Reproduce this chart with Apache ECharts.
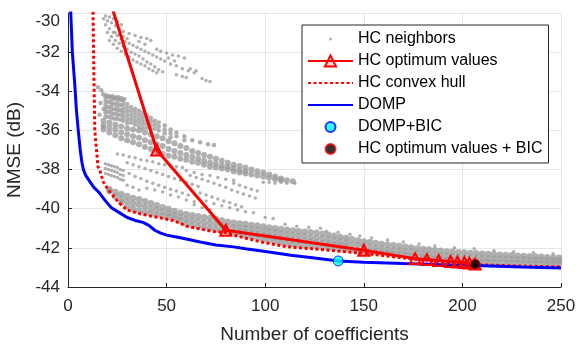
<!DOCTYPE html>
<html>
<head>
<meta charset="utf-8">
<script src="https://cdn.jsdelivr.net/npm/echarts@6/dist/echarts.min.js"></script>
<style>
html,body{margin:0;padding:0;background:#fff}
#chart{width:579px;height:344px}
</style>
</head>
<body>
<div id="chart"></div>
<script>
// HC neighbors, sparse dots
var nbTop = [
[18,-30.3],[20,-30.4],[22,-30.5],[24,-30.65],[26,-30.8],[28,-30.95],[31,-31.05],[34,-31.15],[37,-31.25],[40,-31.3],[42,-31.4],[45,-31.85],[47,-31.95],[50,-32.05],[53,-32.15],[56,-32.2],[59,-32.3],[62,-32.85],[65,-32.95],[68,-33.35],[70,-33.45],[72,-33.5],
[19,-30.6],[21,-30.8],[23,-31.0],[25,-31.15],[27,-31.3],[29,-31.45],[31,-31.55],[33,-31.65],[35,-31.75],[37,-31.85],[39,-31.95],[41,-32.05],[43,-32.15],[45,-32.25],[47,-32.35],[49,-32.45],[52,-32.6],[55,-32.7],[58,-32.85],[61,-32.95],[64,-33.05],
[20,-31.0],[22,-31.2],[24,-31.4],[26,-31.55],[28,-31.7],[30,-31.85],[32,-32.0],[34,-32.1],[36,-32.2],[38,-32.35],[40,-32.5],[42,-32.6],[44,-32.75],[46,-32.9],[48,-33.0],[55,-33.15],[58,-33.25],[60,-33.3],
[21,-31.4],[23,-31.6],[25,-31.8],[27,-31.95],[29,-32.1],[31,-32.25],[33,-32.4],[35,-32.5],[37,-32.6],[39,-32.7],[41,-32.85],[43,-32.95],[45,-33.05],
[19,-30.15],[21,-30.2],[23,-30.3],[25,-30.45],[27,-30.6],[24,-31.0],[26,-31.1],[28,-31.2],[30,-31.3],[36,-31.45],[39,-31.6],[51,-32.3],[54,-32.45]
];
var nbUpper = [
[15.2,-33.8],[16.9,-33.95],[17.8,-34.15],[16,-35.2],[17.8,-35.8],[16.5,-34.6],[18,-34.9],
[19.5,-34.2],[21,-34.25],[22.5,-34.25],[24,-34.3],[25.5,-34.3],[27,-34.35],[28.5,-34.4],
[19,-34.3],[19,-34.5],[19,-34.7],[19,-34.9],[19,-35.1],[19,-35.3],
[20.5,-34.3],[20.5,-34.55],[20.5,-34.8],[20.5,-35.05],[20.5,-35.3],
[22,-34.35],[22,-34.55],[22,-34.75],[22,-34.95],[22,-35.15],[22,-35.35],
[23.5,-34.4],[23.5,-34.65],[23.5,-34.9],[23.5,-35.15],[23.5,-35.4],
[25,-34.4],[25,-34.6],[25,-34.8],[25,-35.0],[25,-35.2],[25,-35.4],
[26.5,-34.45],[26.5,-34.7],[26.5,-34.95],[26.5,-35.2],[26.5,-35.45],
[28,-34.5],[28,-34.7],[28,-34.9],[28,-35.1],[28,-35.3],[28,-35.5],
[30,-34.65],[30,-34.85],[30,-35.05],[30,-35.25],[30,-35.45],[30,-35.65],
[32,-34.8],[32,-35.0],[32,-35.2],[32,-35.4],[32,-35.6],
[34,-34.9],[34,-35.1],[34,-35.3],[34,-35.5],[34,-35.7],
[36,-35.0],[36,-35.2],[36,-35.4],[36,-35.6],[36,-35.8],
[38,-35.1],[38,-35.3],[38,-35.5],[38,-35.7],[38,-35.9],
[40,-35.25],[40,-35.45],[40,-35.65],[40,-35.85],
[42,-35.35],[42,-35.55],[42,-35.75],[42,-35.95],
[44,-35.5],[44,-35.7],[44,-35.9],[46,-35.6],[46,-35.8],[46,-36.0],
[49,-35.75],[49,-35.95],[49,-36.15],[52,-35.95],[52,-36.15],[52,-36.35],
[55,-36.1],[55,-36.3],[59,-36.3],[59,-36.5],[63,-36.5],[67,-36.6],[71,-36.7],[74,-36.75]
];
var nbBelow = [
[19,-37.7],[19,-37.95],[19,-38.2],[20.5,-37.75],[20.5,-38.0],[20.5,-38.25],[22,-37.8],[22,-38.05],[22,-38.3],
[23.5,-37.85],[23.5,-38.1],[23.5,-38.35],[25,-37.9],[25,-38.15],[25,-38.4],[26.5,-38.0],[26.5,-38.25],[26.5,-38.5],
[28,-38.05],[28,-38.3],[28,-38.55],
[25,-37.2],[28,-37.25],[31,-37.35],[34,-37.4],[37,-37.5],[40,-37.55],[43,-37.6],[46,-37.7],[49,-37.75],[52,-37.8],[55,-37.85],[58,-37.9],
[30,-37.65],[33,-37.75],[36,-37.85],[39,-37.95],[42,-38.05],[45,-38.15],[48,-38.25],[51,-38.35],[54,-38.45],[57,-38.55],[60,-38.65],[63,-38.75],[66,-38.85],
[31,-38.2],[34,-38.35],[37,-38.45],[40,-38.6],[43,-38.7],[46,-38.8],[49,-38.9],[52,-39.0],[55,-39.1],[58,-39.2],[61,-39.3],
[40,-38.95],[44,-39.05],[48,-39.15],[52,-39.3],[56,-39.4],[60,-39.55],[64,-39.65],
[60,-38.05],[64,-38.15],[68,-38.25],[72,-38.3],[76,-38.4],[80,-38.5],[84,-38.55],
[30,-38.8],[33,-38.9],[36,-39.05],[62,-38.3],[65,-38.4],[68,-38.5],[71,-38.6],[74,-38.7],[77,-38.8],[80,-38.9],[83,-39.05],
[86,-39.15],[89,-39.25],[92,-39.35],[95,-39.45],[84,-38.7],[87,-38.8],[90,-38.9],[93,-39.0],[96,-39.1],
[67,-39.2],[70,-39.3],[73,-39.4],[76,-39.5],[79,-39.6],[82,-39.7],[85,-39.8],[88,-39.9],
[70,-39.6],[74,-39.75],[78,-39.85],[82,-39.95],[86,-40.05],[90,-40.15],[94,-40.2],[100,-40.45],[104,-40.5],
[99,-38.65],[102,-38.65],[105,-38.7],[108,-38.65],[111,-38.7],[115,-38.7],[64,-39.8],[68,-39.95],[72,-40.05],
[110,-40.8],[116,-40.9],[122,-40.95],[128,-41.0],[131,-41.15],[137,-41.2],[143,-41.3],[148,-41.4],[154,-41.5],[162,-41.6],
[170,-41.7],[178,-41.8],[186,-41.9],[196,-42.0],[206,-42.05],[216,-42.15],[226,-42.2],[236,-42.25],[246,-42.3]
];
// dense bands: [x, y rows...]
var midBand = [
[18,-35.5,-35.75,-35.95],[21,-35.6,-35.85,-36.1],[24,-35.7,-35.95,-36.25],[27,-35.8,-36.1,-36.4],
[30,-35.9,-36.2,-36.5],[33,-35.95,-36.3,-36.6],[36,-36.0,-36.38,-36.7],[39,-36.1,-36.5,-36.85],
[42,-36.2,-36.6,-36.95],[45,-36.3,-36.7,-37.1],[48,-36.4,-36.8,-37.2],[51,-36.55,-36.95,-37.3],
[54,-36.65,-37.05,-37.35],[57,-36.8,-37.15,-37.45],[60,-36.9,-37.25,-37.5],[63,-37.05,-37.35,-37.6],
[66,-37.15,-37.45,-37.65],[69,-37.25,-37.55,-37.75],[72,-37.35,-37.65,-37.85],[75,-37.45,-37.72,-37.9],
[78,-37.55,-37.8,-37.95],[81,-37.65,-37.85,-38.0],[84,-37.75,-37.95,-38.1],[87,-37.82,-38.05,-38.15],
[90,-37.9,-38.1,-38.2],[93,-38.0,null,-38.25],[96,-38.08,null,-38.3],[99,-38.15,null,-38.35],
[102,-38.25,null,-38.42],[105,-38.35,null,-38.5],[108,-38.45,null,-38.55],[111,-38.55,null,null],[114,-38.6,null,null]
];
var lowBand = [
[21,-39.0,null,null,-39.1],[24,-39.15,null,null,-39.38],[27,-39.25,-39.5,null,-39.7],[30,-39.35,-39.62,null,-39.9],
[33,-39.45,-39.72,null,-40.0],[36,-39.52,-39.8,null,-40.1],[39,-39.62,-39.9,null,-40.18],[42,-39.72,-40.0,null,-40.25],
[45,-39.82,-40.08,null,-40.32],[48,-39.92,-40.15,null,-40.37],[51,-40.02,-40.23,null,-40.42],[54,-40.12,-40.32,null,-40.5],
[57,-40.2,-40.42,null,-40.62],[60,-40.28,-40.52,null,-40.75],[63,-40.34,-40.58,null,-40.83],[66,-40.38,-40.64,null,-40.9],
[69,-40.43,-40.69,null,-40.95],[72,-40.48,-40.74,null,-41.0],[75,-40.53,-40.78,null,-41.05],[78,-40.6,-40.84,null,-41.08],
[81,-40.66,-40.9,null,-41.15],[84,-40.72,-40.95,null,-41.2],[87,-40.76,-40.98,-41.18,-41.28],[90,-40.78,-41.0,-41.2,-41.35],
[93,-40.83,-41.05,-41.25,-41.42],[96,-40.86,-41.08,-41.3,-41.5],[99,-40.91,-41.13,-41.35,-41.57],[102,-40.96,-41.18,-41.4,-41.62],
[105,-41.0,-41.22,-41.45,-41.68],[108,-41.04,-41.27,-41.5,-41.73],[111,-41.08,-41.31,-41.54,-41.78],[114,-41.11,-41.35,-41.58,-41.81],
[117,-41.15,-41.38,-41.61,-41.84],[120,-41.18,-41.41,-41.64,-41.87],[123,-41.2,-41.44,-41.68,-41.9],[126,-41.23,-41.48,-41.71,-41.93],
[129,-41.28,-41.52,-41.75,-41.95],[132,-41.33,-41.57,-41.79,-41.98],[135,-41.38,-41.62,-41.84,-42.01],[138,-41.44,-41.67,-41.88,-42.04],
[141,-41.5,-41.72,-41.92,-42.07],[144,-41.56,-41.8,null,-42.1],[147,-41.62,-41.86,null,-42.12],[150,-41.68,-41.9,null,-42.14],
[153,-41.71,-41.95,null,-42.18],[156,-41.75,-42.0,null,-42.21],[159,-41.8,-42.04,null,-42.24],[162,-41.84,-42.08,null,-42.28],
[165,-41.87,-42.11,null,-42.31],[168,-41.9,-42.14,null,-42.34],[171,-41.94,-42.18,null,-42.38],[174,-41.98,-42.21,null,-42.41],
[177,-42.03,-42.26,null,-42.45],[180,-42.06,-42.29,null,-42.48],[183,-42.09,-42.32,null,-42.51],[186,-42.12,-42.35,null,-42.54],
[189,-42.15,-42.37,null,-42.56],[192,-42.18,-42.4,null,-42.59],[195,-42.2,-42.43,null,-42.62],[198,-42.22,-42.45,null,-42.65],
[201,-42.24,-42.47,null,-42.68],[204,-42.26,-42.49,null,-42.7],[207,-42.28,-42.51,null,-42.72],[210,-42.3,-42.53,null,-42.73],
[213,-42.32,-42.54,null,-42.74],[216,-42.34,-42.55,null,-42.75],[219,-42.35,-42.56,null,-42.76],[222,-42.37,-42.57,null,-42.76],
[225,-42.38,-42.58,null,-42.77],[228,-42.4,-42.59,null,-42.78],[231,-42.41,-42.6,null,-42.79],[234,-42.43,-42.61,null,-42.79],
[237,-42.44,-42.62,null,-42.8],[240,-42.46,-42.63,null,-42.81],[243,-42.48,-42.64,null,-42.81],[246,-42.49,-42.65,null,-42.82],
[249,-42.51,-42.66,null,-42.82]
];
var hcOptimum = [[12,-26.4],[45,-37.0],[80,-41.1],[150,-42.12],[176,-42.55],[182,-42.6],[188,-42.65],[194,-42.7],[197.5,-42.72],[201,-42.75],[203.5,-42.78],[206.5,-42.83]];
var hcHull = [[12.7,-26],[12.7,-30],[13.1,-33],[13.6,-36],[15.2,-37.85],[16.2,-38.05],[18,-38.65],[20.5,-39.05],[25,-39.6],[29.8,-40.06],[35,-40.22],[41.7,-40.37],[53.4,-40.6],[60.3,-40.9],[74,-41.17],[80,-41.22],[84,-41.35],[97.6,-41.69],[111,-41.94],[130,-42.1],[150,-42.28],[176,-42.58],[206,-42.86],[230,-42.93],[250,-42.97]];
var domp = [[1,-26],[1.4,-30],[2.2,-32],[3.4,-33.6],[4.3,-35],[5.2,-36],[6.2,-37],[7,-37.6],[7.8,-38.0],[9,-38.3],[11,-38.6],[13,-38.9],[16,-39.2],[19,-39.6],[22,-39.95],[26,-40.2],[30,-40.45],[34,-40.6],[38,-40.7],[41,-40.85],[44,-41.1],[47,-41.25],[50,-41.35],[55,-41.45],[60,-41.55],[67,-41.7],[75,-41.85],[84,-41.95],[90,-42.05],[101,-42.2],[113,-42.38],[125,-42.52],[137,-42.67],[150,-42.73],[170,-42.8],[190,-42.86],[210,-42.92],[230,-42.98],[250,-43.03]];
var dompBic = [[137,-42.67]];
var hcBic = [[206.5,-42.84]];
var xTicks = {min:0, max:250, step:50};
var yTicks = {min:-44, max:-30, step:2};

function bandPoints(rows){
	var pts=[];
	rows.forEach(function(r){
		for(var k=1;k<r.length;k++){
			if(r[k]!==null) pts.push([r[0],r[k]]);
		}
	});
	return pts;
}

var font='Liberation Sans';
var txt='#262626';
var gray='#9c9c9c';
var noSymbol={color:'rgba(0,0,0,0)',borderColor:'rgba(0,0,0,0)',borderWidth:0};
var dot='path://M0,0M14,14M5.5,7a1.5,1.5 0 1,0 3,0a1.5,1.5 0 1,0 -3,0z';
var ball='path://M0,0M14,14M2,7a5,5 0 1,0 10,0a5,5 0 1,0 -10,0z';
var mychart=echarts.init(document.getElementById('chart'));
var option={
	animation:false,
	grid:{left:68,right:18,top:13,bottom:57,outerBoundsMode:'none'},
	legend:{
		orient:'vertical',
		left:302,top:25,
		backgroundColor:'#fff',
		borderColor:'#262626',borderWidth:1,borderRadius:0,
		padding:[6,6,6,5],
		itemGap:6,
		itemWidth:45,itemHeight:14,
		textStyle:{fontSize:16,color:'#000',fontFamily:font},
		data:[
			{name:'HC neighbors',icon:dot},
			'HC optimum values',
			{name:'HC convex hull',itemStyle:noSymbol},
			{name:'DOMP',itemStyle:noSymbol},
			{name:'DOMP+BIC',icon:ball},
			{name:'HC optimum values + BIC',icon:ball}
		]
	},
	xAxis:{
		type:'value',min:xTicks.min,max:xTicks.max,interval:xTicks.step,
		name:'Number of coefficients',nameLocation:'middle',nameGap:38,
		nameTextStyle:{fontSize:19,color:txt,fontFamily:font},
		axisLine:{show:true,lineStyle:{color:txt,width:1}},
		axisTick:{show:true,inside:true,length:4,lineStyle:{color:txt}},
		axisLabel:{fontSize:17,color:txt,fontFamily:font,margin:11},
		splitLine:{show:true,lineStyle:{color:'#e6e6e6',width:1}}
	},
	yAxis:{
		type:'value',min:yTicks.min,max:yTicks.max,interval:yTicks.step,
		name:'NMSE (dB)',nameLocation:'middle',nameGap:40,
		nameTextStyle:{fontSize:19,color:txt,fontFamily:font},
		axisLine:{show:true,lineStyle:{color:txt,width:1}},
		axisTick:{show:true,inside:true,length:4,lineStyle:{color:txt}},
		axisLabel:{fontSize:17,color:txt,fontFamily:font,margin:8,verticalAlignMaxLabel:'top'},
		splitLine:{show:true,lineStyle:{color:'#e6e6e6',width:1}}
	},
	series:[
		{name:'HC neighbors',type:'scatter',symbol:'circle',symbolSize:3.5,
			itemStyle:{color:gray},data:nbTop.concat(nbBelow)},
		{name:'HC neighbors',type:'scatter',symbol:'circle',symbolSize:4.5,
			itemStyle:{color:gray},data:nbUpper},
		{name:'HC neighbors',type:'scatter',symbol:'circle',symbolSize:6,
			itemStyle:{color:gray},data:bandPoints(midBand)},
		{name:'HC neighbors',type:'scatter',symbol:'circle',symbolSize:6.5,
			itemStyle:{color:gray},data:bandPoints(lowBand)},
		{name:'HC convex hull',type:'line',data:hcHull,symbol:'none',
			lineStyle:{color:'#ff0000',width:3,type:[3,2.5]},itemStyle:{color:'#ff0000'}},
		{name:'DOMP',type:'line',data:domp,symbol:'none',
			lineStyle:{color:'#0000ff',width:3},itemStyle:{color:'#0000ff'}},
		{name:'HC optimum values',type:'line',data:hcOptimum,symbol:'triangle',symbolSize:11,
			lineStyle:{color:'#ff0000',width:3},
			itemStyle:{color:'rgba(255,0,0,0.2)',borderColor:'#ff0000',borderWidth:2}},
		{name:'DOMP+BIC',type:'scatter',data:dompBic,symbol:'circle',symbolSize:10,z:5,
			itemStyle:{color:'#00ffff',borderColor:'#0000ff',borderWidth:1}},
		{name:'HC optimum values + BIC',type:'scatter',data:hcBic,symbol:'circle',symbolSize:10,z:5,
			itemStyle:{color:'#000000',borderColor:'#ff0000',borderWidth:1}}
	]
};
mychart.setOption(option);
</script>
</body>
</html>
